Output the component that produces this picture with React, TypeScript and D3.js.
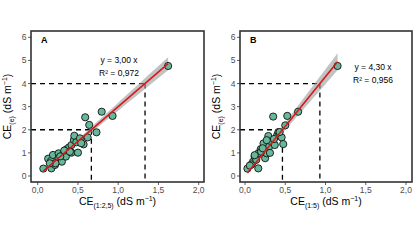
import React from "react";
import * as d3 from "d3";

// ---- Data ----
const xTicks = [0, 0.5, 1.0, 1.5, 2.0];
const yTicks = [0, 1, 2, 3, 4, 5, 6];

const panelLabels = ["A", "B"];
const xTitles = ["(1:2,5)", "(1:5)"];
const slopes = [3.0, 4.3];
const r2s = ["0,972", "0,956"];
const targetY = [2, 4];

const xA = [0.07, 0.13, 0.165, 0.17, 0.19, 0.215, 0.26, 0.26, 0.30, 0.32, 0.35, 0.36, 0.39, 0.42, 0.42, 0.45, 0.455, 0.48, 0.50, 0.525, 0.57, 0.59, 0.62, 0.64, 0.73, 0.795, 0.93, 1.62, 0.22, 0.28, 0.15, 0.33, 0.40, 0.54];
const yA = [0.32, 0.75, 0.65, 0.33, 0.91, 0.48, 0.98, 0.77, 0.62, 0.95, 0.84, 1.16, 1.24, 1.34, 1.01, 1.56, 1.74, 1.46, 1.01, 1.63, 1.37, 2.54, 1.67, 2.21, 1.89, 2.78, 2.60, 4.76, 0.55, 0.85, 0.55, 1.10, 1.05, 1.42];

const xB = [0.03, 0.10, 0.12, 0.165, 0.165, 0.195, 0.23, 0.25, 0.27, 0.29, 0.30, 0.33, 0.35, 0.37, 0.40, 0.455, 0.475, 0.525, 0.66, 0.50, 0.415, 0.08, 0.14, 0.20, 0.31, 0.22, 0.06, 1.15, 0.27, 0.36, 0.43, 0.12];
const yB = [0.32, 0.62, 0.84, 0.98, 0.33, 1.16, 1.41, 0.77, 0.98, 1.73, 1.27, 1.48, 2.57, 1.34, 1.77, 1.67, 1.38, 2.60, 2.78, 2.19, 1.90, 0.50, 0.70, 1.05, 1.00, 1.20, 0.45, 4.76, 1.55, 1.60, 1.90, 0.90];

const panelX = [xA, xB];
const panelY = [yA, yB];

// ---- Layout ----
const panels = [
  { boxL: 31, boxR: 204, x0: 37.7, x2: 198.7, annX: 119, annY: 63 },
  { boxL: 240, boxR: 412, x0: 245, x2: 406, annX: 373, annY: 70 },
];
const boxT = 31;
const boxB = 182;
const y0px = 176;
const y6px = 37.3;

const fmt = (v: number) => d3.format(".1f")(v).replace(".", ",");
const fmt2 = (v: number) => d3.format(".2f")(v).replace(".", ",");

function Panel({ i }: { i: number }) {
  const p = panels[i];
  const xs = d3.scaleLinear().domain([0, 2]).range([p.x0, p.x2]);
  const ys = d3.scaleLinear().domain([0, 6]).range([y0px, y6px]);
  const X = panelX[i];
  const Y = panelY[i];
  const b = slopes[i];
  const n = X.length;
  const sxx = d3.sum(X, (v) => v * v);
  const sse = d3.sum(X, (v, k) => (Y[k] - b * v) ** 2);
  const s = Math.sqrt(sse / (n - 1));
  const seB = s / Math.sqrt(sxx);
  const t = 2.03;
  const xmin = d3.min(X) as number;
  const xmax = d3.max(X) as number;
  const grid = d3.range(0, 51).map((k) => xmin + ((xmax - xmin) * k) / 50);
  const area = d3
    .area<number>()
    .x((v) => xs(v))
    .y0((v) => ys(b * v - t * seB * v))
    .y1((v) => ys(b * v + t * seB * v));
  const cx = (v: number) => xs(v);
  const font = "Liberation Sans, Arial, sans-serif";
  const tickColor = "#4d4d4d";
  const midX = (p.boxL + p.boxR) / 2;
  const midY = (boxT + boxB) / 2;
  const yTitleX = p.boxL - 20;
  return (
    <g>
      {/* dashed guides */}
      {targetY.map((ty) => {
        const gx = ty / b;
        return (
          <g key={ty} stroke="#000" strokeWidth={1.3} strokeDasharray="5,4" fill="none">
            <line x1={p.boxL} x2={xs(gx)} y1={ys(ty)} y2={ys(ty)} />
            <line x1={xs(gx)} x2={xs(gx)} y1={ys(ty)} y2={boxB} />
          </g>
        );
      })}
      {/* confidence band */}
      <path d={area(grid) || ""} fill="#999" opacity={0.6} />
      {/* points */}
      {X.map((v, k) => (
        <circle key={k} cx={cx(v)} cy={ys(Y[k])} r={3.6} fill="#66b89a" stroke="#111" strokeWidth={0.9} />
      ))}
      {/* regression line */}
      <line x1={xs(xmin)} y1={ys(b * xmin)} x2={xs(xmax)} y2={ys(b * xmax)} stroke="#d7191c" strokeWidth={1.6} />
      {/* box */}
      <rect x={p.boxL} y={boxT} width={p.boxR - p.boxL} height={boxB - boxT} fill="none" stroke="#333" strokeWidth={1.6} />
      {/* x ticks */}
      {xTicks.map((v) => (
        <g key={v}>
          <line x1={xs(v)} x2={xs(v)} y1={boxB} y2={boxB + 3} stroke="#333" strokeWidth={0.8} />
          <text x={xs(v)} y={boxB + 11} textAnchor="middle" fontSize={8.5} fill={tickColor} fontFamily={font}>
            {fmt(v)}
          </text>
        </g>
      ))}
      {/* y ticks */}
      {yTicks.map((v) => (
        <g key={v}>
          <line x1={p.boxL - 3} x2={p.boxL} y1={ys(v)} y2={ys(v)} stroke="#333" strokeWidth={0.8} />
          <text x={p.boxL - 4.5} y={ys(v) + 3} textAnchor="end" fontSize={8.5} fill={tickColor} fontFamily={font}>
            {v}
          </text>
        </g>
      ))}
      {/* panel label */}
      <text x={p.boxL + 10} y={43} fontSize={9} fontWeight="bold" fontFamily={font}>
        {panelLabels[i]}
      </text>
      {/* annotation */}
      <text x={p.annX} y={p.annY} textAnchor="middle" fontSize={8.5} fontFamily={font}>
        {`y =  ${fmt2(b)} x`}
      </text>
      <text x={p.annX} y={p.annY + 13} textAnchor="middle" fontSize={8.5} fontFamily={font}>
        {`R² =  ${r2s[i]}`}
      </text>
      {/* x title */}
      <text x={midX} y={205} textAnchor="middle" fontSize={10.5} fontFamily={font}>
        CE<tspan fontSize={7} dy={2.5}>{xTitles[i]}</tspan>
        <tspan dy={-2.5}> (dS m</tspan>
        <tspan fontSize={7} dy={-4}>−1</tspan>
        <tspan dy={4}>)</tspan>
      </text>
      {/* y title */}
      <text
        transform={`translate(${yTitleX},${midY}) rotate(-90)`}
        textAnchor="middle"
        fontSize={10.5}
        fontFamily={font}
      >
        CE<tspan fontSize={7} dy={2.5}>(e)</tspan>
        <tspan dy={-2.5}> (dS m</tspan>
        <tspan fontSize={7} dy={-4}>−1</tspan>
        <tspan dy={4}>)</tspan>
      </text>
    </g>
  );
}

export default function App() {
  return (
    <svg width={419} height={242} style={{ position: "absolute", left: 0, top: 0, background: "#fff" }}>
      <rect width={419} height={242} fill="#fff" />
      <Panel i={0} />
      <Panel i={1} />
    </svg>
  );
}
